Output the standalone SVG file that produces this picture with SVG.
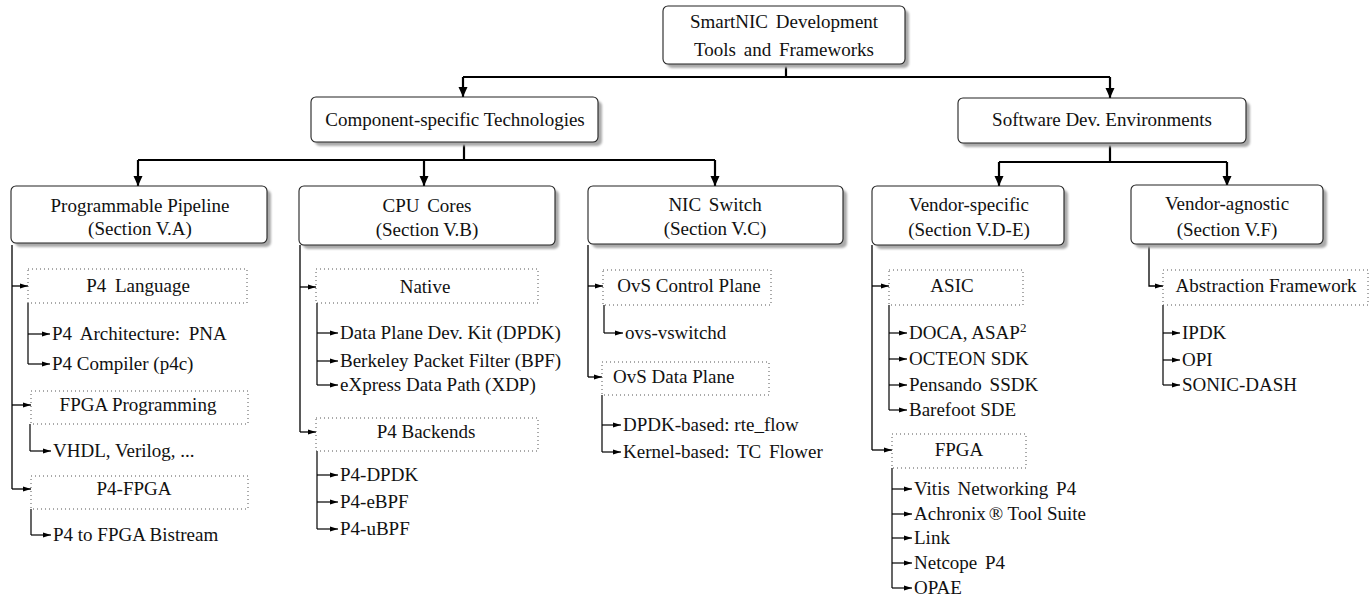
<svg xmlns="http://www.w3.org/2000/svg" width="1372" height="601" viewBox="0 0 1372 601">
<defs>
<marker id="ah" markerUnits="userSpaceOnUse" markerWidth="10" markerHeight="10" refX="10" refY="5" orient="auto">
<path d="M0,0.5 L10,5 L0,9.5 z" fill="#000"/>
</marker>
<marker id="as" markerUnits="userSpaceOnUse" markerWidth="8" markerHeight="6" refX="8" refY="3" orient="auto">
<path d="M0,0.5 L8,3 L0,5.5 z" fill="#000"/>
</marker>
<filter id="sh" x="-5%" y="-5%" width="115%" height="130%">
<feGaussianBlur stdDeviation="0.8"/>
</filter>
</defs>
<style>
text{font-family:"Liberation Serif","Times New Roman",serif;font-size:19px;fill:#111}
.c{text-anchor:middle}
.box{fill:#fff;stroke:#222;stroke-width:1.1}
.shd{fill:#aaa;filter:url(#sh)}
.dot{fill:#fff;stroke:#555;stroke-width:1;stroke-dasharray:1 3}
.m{fill:none;stroke:#000;stroke-width:2.2}
.l{fill:none;stroke:#000;stroke-width:1.3}
.s{fill:none;stroke:#000;stroke-width:1.2}
</style>

<g id="connectors">
<path class="m" d="M786,64 V77"/>
<path class="m" d="M463,77 H1110"/>
<path class="m" d="M463,77 V97" marker-end="url(#ah)"/>
<path class="m" d="M1110,77 V98" marker-end="url(#ah)"/>
<path class="m" d="M464,142 V160"/>
<path class="m" d="M138,160 H715"/>
<path class="m" d="M138,160 V186" marker-end="url(#ah)"/>
<path class="m" d="M424,160 V186" marker-end="url(#ah)"/>
<path class="m" d="M715,160 V186" marker-end="url(#ah)"/>
<path class="m" d="M1110,143 V162"/>
<path class="m" d="M999,162 H1227"/>
<path class="m" d="M999,162 V186" marker-end="url(#ah)"/>
<path class="m" d="M1227,162 V186" marker-end="url(#ah)"/>

<path class="l" d="M12,245 V489"/>
<path class="l" d="M12,286 H28" marker-end="url(#as)"/>
<path class="l" d="M12,405 H31" marker-end="url(#as)"/>
<path class="l" d="M12,489 H31" marker-end="url(#as)"/>
<path class="s" d="M28,303 V364"/>
<path class="s" d="M28,334 H50" marker-end="url(#as)"/>
<path class="s" d="M28,364 H50" marker-end="url(#as)"/>
<path class="s" d="M30,424 V451"/>
<path class="s" d="M30,451 H51" marker-end="url(#as)"/>
<path class="s" d="M31,509 V535"/>
<path class="s" d="M31,535 H51" marker-end="url(#as)"/>

<path class="l" d="M300,245 V432"/>
<path class="l" d="M300,287 H316" marker-end="url(#as)"/>
<path class="l" d="M300,432 H316" marker-end="url(#as)"/>
<path class="s" d="M317,303 V385"/>
<path class="s" d="M317,333 H338" marker-end="url(#as)"/>
<path class="s" d="M317,361 H338" marker-end="url(#as)"/>
<path class="s" d="M317,385 H338" marker-end="url(#as)"/>
<path class="s" d="M317,451 V529"/>
<path class="s" d="M317,475 H338" marker-end="url(#as)"/>
<path class="s" d="M317,502 H338" marker-end="url(#as)"/>
<path class="s" d="M317,529 H338" marker-end="url(#as)"/>

<path class="l" d="M588,245 V377"/>
<path class="l" d="M588,286 H603" marker-end="url(#as)"/>
<path class="l" d="M588,377 H602" marker-end="url(#as)"/>
<path class="s" d="M604,305 V333"/>
<path class="s" d="M604,333 H623" marker-end="url(#as)"/>
<path class="s" d="M602,395 V452"/>
<path class="s" d="M602,425 H621" marker-end="url(#as)"/>
<path class="s" d="M602,452 H621" marker-end="url(#as)"/>

<path class="l" d="M872,245 V450"/>
<path class="l" d="M872,286 H889" marker-end="url(#as)"/>
<path class="l" d="M872,450 H892" marker-end="url(#as)"/>
<path class="s" d="M889,305 V410"/>
<path class="s" d="M889,333 H907" marker-end="url(#as)"/>
<path class="s" d="M889,359 H907" marker-end="url(#as)"/>
<path class="s" d="M889,385 H907" marker-end="url(#as)"/>
<path class="s" d="M889,410 H907" marker-end="url(#as)"/>
<path class="s" d="M892,468 V588"/>
<path class="s" d="M892,489 H912" marker-end="url(#as)"/>
<path class="s" d="M892,514 H912" marker-end="url(#as)"/>
<path class="s" d="M892,538 H912" marker-end="url(#as)"/>
<path class="s" d="M892,563 H912" marker-end="url(#as)"/>
<path class="s" d="M892,588 H912" marker-end="url(#as)"/>

<path class="l" d="M1149,245 V286 H1163" marker-end="url(#as)"/>
<path class="s" d="M1163,305 V385"/>
<path class="s" d="M1163,333 H1180" marker-end="url(#as)"/>
<path class="s" d="M1163,360 H1180" marker-end="url(#as)"/>
<path class="s" d="M1163,385 H1180" marker-end="url(#as)"/>
</g>

<g id="root">
<rect class="shd" x="667" y="10" width="242" height="58" rx="5"/>
<rect class="box" x="663" y="6" width="242" height="58" rx="5"/>
<text class="c" x="784" y="28" word-spacing="3">SmartNIC Development</text>
<text class="c" x="784" y="56" word-spacing="3">Tools and Frameworks</text>
</g>

<g id="component">
<rect class="shd" x="315" y="101" width="287" height="45" rx="5"/>
<rect class="box" x="311" y="97" width="287" height="45" rx="5"/>
<text class="c" x="455" y="126">Component-specific Technologies</text>
</g>

<g id="software">
<rect class="shd" x="962" y="102" width="288" height="45" rx="5"/>
<rect class="box" x="958" y="98" width="288" height="45" rx="5"/>
<text class="c" x="1102" y="126">Software Dev. Environments</text>
</g>

<g id="pipeline">
<rect class="shd" x="15" y="190" width="256" height="57" rx="5"/>
<rect class="box" x="11" y="186" width="256" height="57" rx="5"/>
<text class="c" x="140" y="212">Programmable Pipeline</text>
<text class="c" x="140" y="235">(Section V.A)</text>
</g>

<g id="cpu">
<rect class="shd" x="303" y="190" width="256" height="59" rx="5"/>
<rect class="box" x="299" y="186" width="256" height="59" rx="5"/>
<text class="c" x="427" y="212" word-spacing="3">CPU Cores</text>
<text class="c" x="427" y="236">(Section V.B)</text>
</g>

<g id="nicswitch">
<rect class="shd" x="592" y="190" width="255" height="58" rx="5"/>
<rect class="box" x="588" y="186" width="255" height="58" rx="5"/>
<text class="c" x="715" y="211" word-spacing="3">NIC Switch</text>
<text class="c" x="715" y="235">(Section V.C)</text>
</g>

<g id="vendorspecific">
<rect class="shd" x="876" y="190" width="192" height="59" rx="5"/>
<rect class="box" x="872" y="186" width="192" height="59" rx="5"/>
<text class="c" x="969" y="211">Vendor-specific</text>
<text class="c" x="969" y="236">(Section V.D-E)</text>
</g>

<g id="vendoragnostic">
<rect class="shd" x="1135" y="189" width="192" height="59" rx="5"/>
<rect class="box" x="1131" y="185" width="192" height="59" rx="5"/>
<text class="c" x="1227" y="210">Vendor-agnostic</text>
<text class="c" x="1227" y="236">(Section V.F)</text>
</g>

<g id="p4lang">
<rect class="dot" x="28" y="269" width="219" height="34"/>
<text class="c" x="138" y="292" word-spacing="4">P4 Language</text>
</g>
<g id="p4lang-items">
<text x="52" y="340" word-spacing="4">P4 Architecture: PNA</text>
<text x="52" y="370">P4 Compiler (p4c)</text>
</g>

<g id="fpgaprog">
<rect class="dot" x="31" y="391" width="217" height="33"/>
<text class="c" x="138" y="411">FPGA Programming</text>
</g>
<g id="fpgaprog-items">
<text x="53" y="457">VHDL, Verilog, ...</text>
</g>

<g id="p4fpga">
<rect class="dot" x="31" y="476" width="217" height="33"/>
<text class="c" x="134" y="495">P4-FPGA</text>
</g>
<g id="p4fpga-items">
<text x="53" y="541">P4 to FPGA Bistream</text>
</g>

<g id="native">
<rect class="dot" x="316" y="269" width="222" height="34"/>
<text class="c" x="425" y="293">Native</text>
</g>
<g id="native-items">
<text x="340" y="339">Data Plane Dev. Kit (DPDK)</text>
<text x="340" y="367">Berkeley Packet Filter (BPF)</text>
<text x="340" y="391">eXpress Data Path (XDP)</text>
</g>

<g id="p4backends">
<rect class="dot" x="316" y="418" width="222" height="33"/>
<text class="c" x="426" y="438">P4 Backends</text>
</g>
<g id="p4backends-items">
<text x="340" y="481">P4-DPDK</text>
<text x="340" y="508">P4-eBPF</text>
<text x="340" y="535">P4-uBPF</text>
</g>

<g id="ovscp">
<rect class="dot" x="603" y="270" width="168" height="35"/>
<text class="c" x="689" y="292">OvS Control Plane</text>
</g>
<g id="ovscp-items">
<text x="625" y="339">ovs-vswitchd</text>
</g>

<g id="ovsdp">
<rect class="dot" x="602" y="362" width="167" height="33"/>
<text x="613" y="383">OvS Data Plane</text>
</g>
<g id="ovsdp-items">
<text x="623" y="431">DPDK-based: rte_flow</text>
<text x="623" y="458" word-spacing="3">Kernel-based: TC Flower</text>
</g>

<g id="asic">
<rect class="dot" x="889" y="270" width="134" height="35"/>
<text class="c" x="952" y="292">ASIC</text>
</g>
<g id="asic-items">
<text x="909" y="339">DOCA, ASAP<tspan font-size="13" dy="-7">2</tspan></text>
<text x="909" y="365">OCTEON SDK</text>
<text x="909" y="391" word-spacing="3">Pensando SSDK</text>
<text x="909" y="416">Barefoot SDE</text>
</g>

<g id="fpga">
<rect class="dot" x="892" y="434" width="134" height="34"/>
<text class="c" x="959" y="456">FPGA</text>
</g>
<g id="fpga-items">
<text x="914" y="495" word-spacing="3">Vitis Networking P4</text>
<text x="914" y="520">Achronix<tspan dx="3">®</tspan> Tool Suite</text>
<text x="914" y="544">Link</text>
<text x="914" y="569" word-spacing="3">Netcope P4</text>
<text x="914" y="594">OPAE</text>
</g>

<g id="abstraction">
<rect class="dot" x="1163" y="270" width="205" height="35"/>
<text class="c" x="1266" y="292">Abstraction Framework</text>
</g>
<g id="abstraction-items">
<text x="1182" y="339">IPDK</text>
<text x="1182" y="366">OPI</text>
<text x="1182" y="391">SONIC-DASH</text>
</g>
</svg>
